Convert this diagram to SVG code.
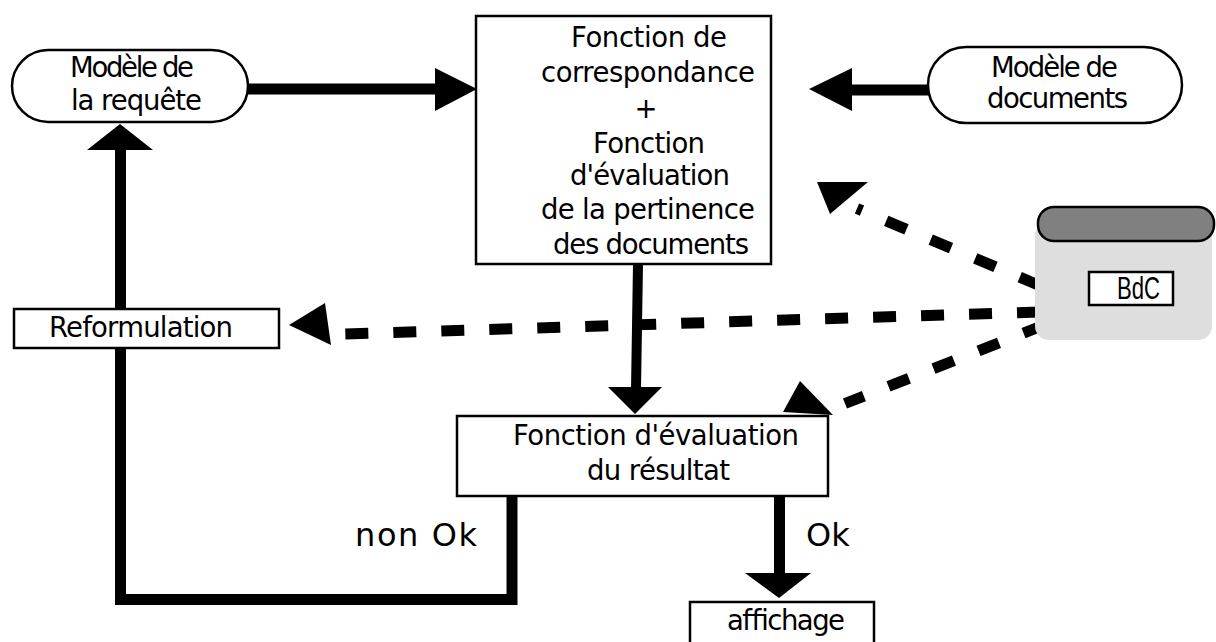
<svg xmlns="http://www.w3.org/2000/svg" width="1216" height="642" viewBox="0 0 1216 642">
<style>
.t{font-family:"DejaVu Sans",Verdana,sans-serif;font-size:27.5px;fill:#000}
.lbl{font-family:"DejaVu Sans",Verdana,sans-serif;font-size:32px;fill:#000}
.box{fill:#fff;stroke:#000;stroke-width:2.5}
.shaft{fill:none;stroke:#000;stroke-width:11;stroke-linejoin:miter;stroke-linecap:butt}
.dash{fill:none;stroke:#000;stroke-width:11;stroke-linecap:butt}
.head{fill:#000}
</style>
<rect width="1216" height="642" fill="#fff"/>
<g id="connectors">
  <path class="shaft" d="M512,496 V599.5 H120.5 V148"/>
  <polygon class="head" points="87,150 153,150 120,124"/>
  <path class="shaft" d="M246,89 H437"/>
  <polygon class="head" points="435,68 477,89 435,111"/>
  <path class="shaft" d="M930,90 H850"/>
  <polygon class="head" points="852,68 809,89 852,111"/>
  <path class="shaft" d="M638,264 L636,389" style="stroke-width:10"/>
  <polygon class="head" points="608,387 662,387 635,414"/>
  <path class="shaft" d="M779.5,496 V575"/>
  <polygon class="head" points="745,573 811,573 779,598"/>
  <path class="dash" d="M1040,285.7 L857,208.5" stroke-dasharray="22 26.3"/>
  <polygon class="head" points="817,182 868,182 830,214"/>
  <path class="dash" d="M1040,312 L345,334" stroke-dasharray="23 25"/>
  <polygon class="head" points="289,325 325,303 331,345"/>
  <path class="dash" d="M1044,325 L845,403.5" stroke-dasharray="22 26.4"/>
  <polygon class="head" points="783,412 800,381 833,415"/>
</g>
<g id="node-requete">
  <rect class="box" x="12" y="50" width="236" height="72" rx="36"/>
  <text class="t" x="70" y="77" textLength="124">Modèle de</text>
  <text class="t" x="71" y="110" textLength="131">la requête</text>
</g>
<g id="node-correspondance">
  <rect class="box" x="476" y="16" width="295" height="248"/>
  <text class="t" x="571" y="47" textLength="156">Fonction de</text>
  <text class="t" x="541" y="82" textLength="214">correspondance</text>
  <text class="t" x="646" y="118" text-anchor="middle">+</text>
  <text class="t" x="593" y="153" textLength="112">Fonction</text>
  <text class="t" x="570" y="185" textLength="160">d'évaluation</text>
  <text class="t" x="541" y="219" textLength="214">de la pertinence</text>
  <text class="t" x="553" y="254" textLength="196">des documents</text>
</g>
<g id="node-documents">
  <rect class="box" x="928" y="47" width="254" height="76" rx="38"/>
  <text class="t" x="991" y="77" textLength="127">Modèle de</text>
  <text class="t" x="987" y="108" textLength="141">documents</text>
</g>
<g id="node-bdc">
  <rect x="1035" y="222" width="177" height="118" rx="14" fill="#dedede"/>
  <rect x="1038" y="207" width="176" height="34" rx="16" fill="#808080" stroke="#000" stroke-width="2.5"/>
  <rect class="box" x="1089" y="272" width="84" height="33"/>
  <text x="1117" y="299" style="font-family:'Liberation Sans',Arial,sans-serif;font-size:31px" textLength="43" lengthAdjust="spacingAndGlyphs">BdC</text>
</g>
<g id="node-reformulation">
  <rect class="box" x="14" y="309" width="265" height="39"/>
  <text class="t" x="49" y="337" textLength="184">Reformulation</text>
</g>
<g id="node-evaluation">
  <rect class="box" x="457" y="416" width="371" height="80"/>
  <text class="t" x="513" y="445" textLength="286">Fonction d'évaluation</text>
  <text class="t" x="587" y="480" textLength="143">du résultat</text>
</g>
<g id="node-affichage">
  <rect class="box" x="690" y="602" width="184" height="50"/>
  <text class="t" x="727" y="630" textLength="118">affichage</text>
</g>
<g id="labels">
  <text class="lbl" x="355" y="546" textLength="122">non Ok</text>
  <text class="lbl" x="806" y="546">Ok</text>
</g>
</svg>
